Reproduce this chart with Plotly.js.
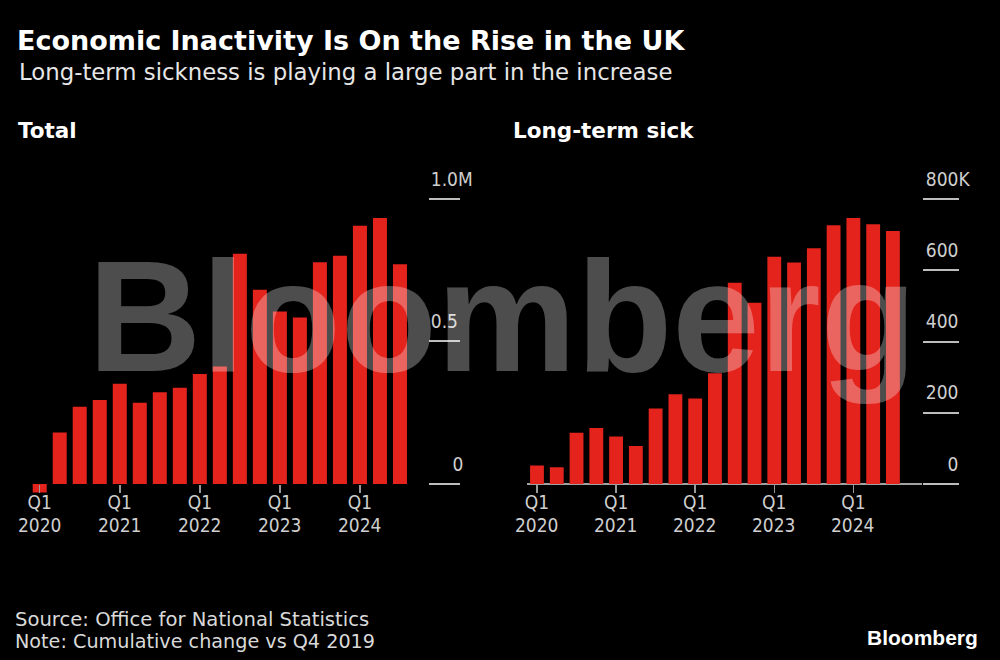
<!DOCTYPE html>
<html>
<head>
<meta charset="utf-8">
<script src="https://cdn.plot.ly/plotly-3.0.1.min.js"></script>
<style>
html,body{margin:0;padding:0;background:#000;}
#chart{width:1000px;height:660px;}
</style>
</head>
<body>
<div id="chart"></div>
<script>
// ---- data ----
const quarters = [
  "Q1 2020","Q2 2020","Q3 2020","Q4 2020",
  "Q1 2021","Q2 2021","Q3 2021","Q4 2021",
  "Q1 2022","Q2 2022","Q3 2022","Q4 2022",
  "Q1 2023","Q2 2023","Q3 2023","Q4 2023",
  "Q1 2024","Q2 2024","Q3 2024"
];
// cumulative change vs Q4 2019, millions
const totalInactive = [-0.03, 0.181, 0.271, 0.295, 0.352, 0.285, 0.322, 0.338, 0.386, 0.412,
                       0.808, 0.682, 0.605, 0.584, 0.778, 0.801, 0.906, 0.933, 0.771];
// cumulative change vs Q4 2019, thousands
const longTermSick = [52, 47, 144, 157, 133, 107, 212, 252, 240, 311,
                      565, 509, 638, 622, 662, 726, 747, 729, 710];

const xTickVals = ["Q1 2020","Q1 2021","Q1 2022","Q1 2023","Q1 2024"];
const xTickQuarter = ["Q1","Q1","Q1","Q1","Q1"];
const xTickYear = ["2020","2021","2022","2023","2024"];
const leftTickVals = [0, 0.5, 1.0];
const leftTickText = ["\u2007\u20070", "0.5", "1.0M"];
const rightTickVals = [0, 200, 400, 600, 800];
const rightTickText = ["\u2007\u20070", "200", "400", "600", "800K"];

// ---- layout helpers (pixel geometry) ----
const W = 1000, H = 660;
const py = p => 1 - p / H;
const FONT_C = "DejaVu Sans Condensed, DejaVu Sans, sans-serif";
const FONT = "DejaVu Sans, sans-serif";
const RED = "#e3231c";
const zeroPx = 484, topPx = 199;

// left panel y range
const lRange = [-0.05, 1.0005];
const lK = (zeroPx - topPx) / 1.0;
const lTop = zeroPx - lRange[1] * lK, lBot = zeroPx - lRange[0] * lK;
// right panel y range
const rRange = [-1, 801];
const rK = (zeroPx - topPx) / 800;
const rTop = zeroPx - rRange[1] * rK, rBot = zeroPx - rRange[0] * rK;
const yearRowPx = 525; // vertical centre of the year label row

const traces = [
  {type: "bar", x: quarters, y: totalInactive, xaxis: "x", yaxis: "y",
   marker: {color: RED}, hoverinfo: "x+y"},
  {type: "bar", x: quarters, y: longTermSick, xaxis: "x2", yaxis: "y2",
   marker: {color: RED}, hoverinfo: "x+y"}
];

const tickFont = {family: FONT_C, size: 19, color: "#cfcfcf"};
const xCommon = {
  type: "category", showgrid: false, zeroline: false, showline: false,
  ticks: "outside", ticklen: 8, tickwidth: 1.5, tickcolor: "#999",
  tickvals: xTickVals, ticktext: xTickQuarter, tickfont: tickFont,
  ticklabelstandoff: -7,
  anchor: "free", position: py(zeroPx), fixedrange: true
};
const yCommon = {
  side: "right", showgrid: false, showline: false,
  ticks: "outside", tickwidth: 2, tickcolor: "#bdbdbd", tickfont: tickFont,
  tickmode: "array", ticklabelshift: -20, fixedrange: true
};
const lDom = [29.7 / W, 428 / W], rDom = [527.1 / W, 922 / W];
const lXR = [-0.5, 19.4], rXR = [-0.5, 19.47];

// year row under the Q1 tick labels, placed through each panel's x axis
const yearLabels = [];
["x", "x2"].forEach(ax => {
  xTickVals.forEach((q, i) => {
    yearLabels.push({text: xTickYear[i], xref: ax, yref: "paper", x: q, y: py(yearRowPx),
      xanchor: "center", yanchor: "middle", showarrow: false, font: tickFont});
  });
});

const layout = {
  width: W, height: H,
  margin: {l: 0, r: 0, t: 0, b: 0},
  paper_bgcolor: "#000", plot_bgcolor: "#000",
  showlegend: false, bargap: 0.3,
  font: {family: FONT, color: "#fff"},
  title: {text: "<b>Economic Inactivity Is On the Rise in the UK</b>",
          x: 17 / W, xanchor: "left", y: py(41), yanchor: "middle",
          font: {family: FONT, size: 27, color: "#fff"}},
  xaxis: Object.assign({}, xCommon, {domain: lDom, range: lXR}),
  yaxis: Object.assign({}, yCommon, {
    domain: [py(lBot), py(lTop)], range: lRange, anchor: "x",
    tickvals: leftTickVals, ticktext: leftTickText,
    ticklen: 31, ticklabelstandoff: -33, zeroline: false}),
  xaxis2: Object.assign({}, xCommon, {domain: rDom, range: rXR}),
  yaxis2: Object.assign({}, yCommon, {
    domain: [py(rBot), py(rTop)], range: rRange, anchor: "x2",
    tickvals: rightTickVals, ticktext: rightTickText,
    ticklen: 36, ticklabelstandoff: -37,
    zeroline: true, zerolinecolor: "#a0a0a0", zerolinewidth: 2}),
  annotations: yearLabels.concat([
    {text: "Long-term sickness is playing a large part in the increase",
     xref: "paper", yref: "paper", x: 17 / W, y: py(72), xanchor: "left", yanchor: "middle",
     showarrow: false, font: {family: FONT, size: 22.8, color: "#e6e6e6"}},
    {text: "<b>Total</b>", xref: "paper", yref: "paper", x: 16 / W, y: py(130),
     xanchor: "left", yanchor: "middle", showarrow: false,
     font: {family: FONT, size: 21.5, color: "#fff"}},
    {text: "<b>Long-term sick</b>", xref: "paper", yref: "paper", x: 511 / W, y: py(130),
     xanchor: "left", yanchor: "middle", showarrow: false,
     font: {family: FONT, size: 21.5, color: "#fff"}},
    {text: "Source: Office for National Statistics", xref: "paper", yref: "paper",
     x: 13 / W, y: py(619), xanchor: "left", yanchor: "middle", showarrow: false,
     font: {family: FONT, size: 19.6, color: "#d9d9d9"}},
    {text: "Note: Cumulative change vs Q4 2019", xref: "paper", yref: "paper",
     x: 13 / W, y: py(641), xanchor: "left", yanchor: "middle", showarrow: false,
     font: {family: FONT, size: 19.2, color: "#d9d9d9"}},
    {text: "<b>Bloomberg</b>", xref: "paper", yref: "paper",
     x: 980 / W, y: py(637), xanchor: "right", yanchor: "middle", showarrow: false,
     font: {family: "Liberation Sans, Arial, sans-serif", size: 21, color: "#fff"}},
    {text: "<b>Bloomberg</b>", xref: "paper", yref: "paper",
     x: 502 / W, y: py(316), xanchor: "center", yanchor: "middle", showarrow: false,
     font: {family: "Liberation Sans, Arial, sans-serif", size: 157, color: "rgba(255,255,255,0.3)"}}
  ])
};

Plotly.newPlot("chart", traces, layout, {displayModeBar: false, staticPlot: true});
</script>
</body>
</html>
